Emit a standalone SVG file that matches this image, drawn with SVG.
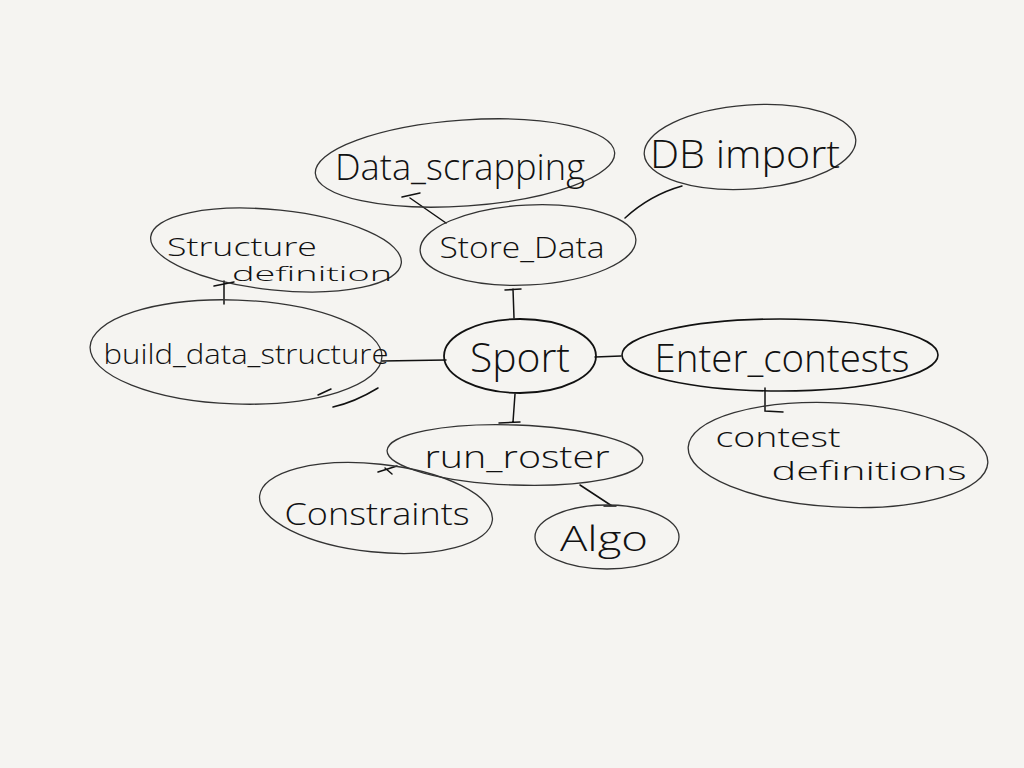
<svg xmlns="http://www.w3.org/2000/svg" width="1024" height="768" viewBox="0 0 1024 768">
<style>
.n{fill:none;stroke:#333;stroke-width:1.3}
.t{font-family:"Open Sans","Liberation Sans",sans-serif;font-weight:300;fill:#111;text-anchor:middle}
.c{fill:none;stroke:#111;stroke-width:1.5;stroke-linecap:round}
</style>
<rect width="1024" height="768" fill="#f5f4f1"/>
<g id="connectors">
<path class="c" d="M410,198 L446,223 M402,197 L420,193"/>
<path class="c" d="M625,218 Q650,195 682,186"/>
<path class="c" d="M224,304 L224,281 M214,286 L234,282"/>
<path class="c" d="M513,289 L514,318 M505,290 L521,289"/>
<path class="c" d="M382,361 L446,360"/>
<path class="c" d="M595,357 L621,356"/>
<path class="c" d="M515,394 L513,422 M499,423 L520,422"/>
<path class="c" d="M765,388 L765,411 L783,412"/>
<path class="c" d="M378,472 L397,466 M385,468 L392,474"/>
<path class="c" d="M580,485 L612,506 M604,506 L616,506"/>
<path class="c" d="M318,395 L331,389 M333,407 Q355,402 378,388"/>
</g>
<g id="data_scrapping"><ellipse class="n" cx="465" cy="163" rx="150" ry="43" transform="rotate(-4 465 163)"/><text class="t" x="460" y="180" font-size="36" textLength="250" lengthAdjust="spacingAndGlyphs">Data_scrapping</text></g>
<g id="db_import"><ellipse class="n" cx="750" cy="147" rx="106" ry="42" transform="rotate(-4 750 147)"/><text class="t" x="745" y="168" font-size="38" textLength="190" lengthAdjust="spacingAndGlyphs">DB import</text></g>
<g id="structure_definition"><ellipse class="n" cx="276" cy="250" rx="126" ry="40" transform="rotate(6 276 250)"/><text class="t" x="242" y="256" font-size="26" textLength="150" lengthAdjust="spacingAndGlyphs">Structure</text><text class="t" x="312" y="281" font-size="21" textLength="160" lengthAdjust="spacingAndGlyphs">definition</text></g>
<g id="store_data"><ellipse class="n" cx="528" cy="245" rx="108" ry="40" transform="rotate(-3 528 245)"/><text class="t" x="522" y="258" font-size="30" textLength="165" lengthAdjust="spacingAndGlyphs">Store_Data</text></g>
<g id="build_data_structure"><ellipse class="n" cx="236" cy="352" rx="146" ry="52" transform="rotate(2 236 352)"/><text class="t" x="246" y="364" font-size="28" textLength="285" lengthAdjust="spacingAndGlyphs">build_data_structure</text></g>
<g id="sport"><ellipse class="n" cx="520" cy="356" rx="76" ry="37" style="stroke:#111;stroke-width:1.8"/><text class="t" x="520" y="372" font-size="40" textLength="100" lengthAdjust="spacingAndGlyphs">Sport</text></g>
<g id="enter_contests"><ellipse class="n" cx="780" cy="355" rx="158" ry="36" style="stroke:#111;stroke-width:1.6"/><text class="t" x="782" y="372" font-size="38" textLength="255" lengthAdjust="spacingAndGlyphs">Enter_contests</text></g>
<g id="run_roster"><ellipse class="n" cx="515" cy="455" rx="128" ry="30" transform="rotate(2 515 455)"/><text class="t" x="517" y="468" font-size="32" textLength="185" lengthAdjust="spacingAndGlyphs">run_roster</text></g>
<g id="constraints"><ellipse class="n" cx="376" cy="508" rx="117" ry="44" transform="rotate(6 376 508)"/><text class="t" x="377" y="525" font-size="32" textLength="185" lengthAdjust="spacingAndGlyphs">Constraints</text></g>
<g id="algo"><ellipse class="n" cx="607" cy="537" rx="72" ry="32"/><text class="t" x="604" y="551" font-size="34" textLength="88" lengthAdjust="spacingAndGlyphs">Algo</text></g>
<g id="contest_definitions"><ellipse class="n" cx="838" cy="455" rx="150" ry="52" transform="rotate(3 838 455)"/><text class="t" x="778" y="447" font-size="28" textLength="125" lengthAdjust="spacingAndGlyphs">contest</text><text class="t" x="869" y="480" font-size="26" textLength="195" lengthAdjust="spacingAndGlyphs">definitions</text></g>
</svg>
